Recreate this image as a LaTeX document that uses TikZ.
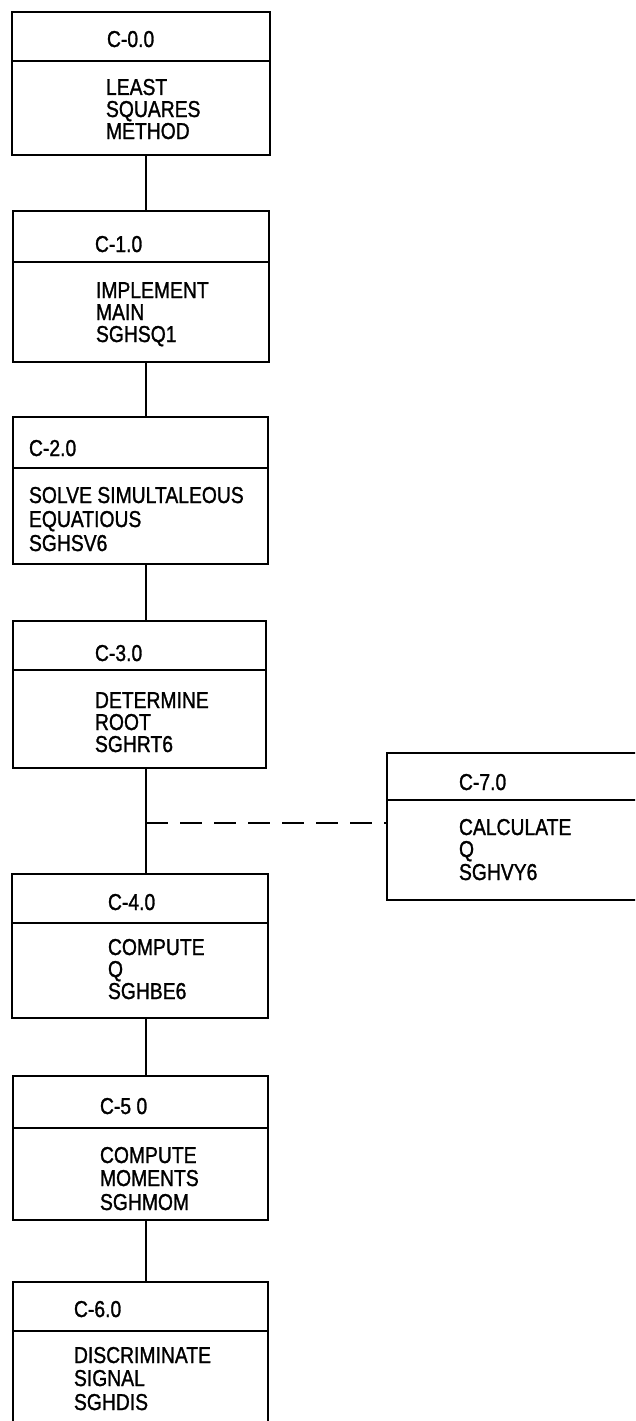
\documentclass[tikz,border=0pt]{standalone}
\usepackage{fontspec}
\setmainfont{Liberation Sans}[FakeStretch=0.84,FakeBold=1.2]
\begin{document}
\begin{tikzpicture}[x=1pt,y=-1pt,
  box/.style={draw, line width=2.5pt, rectangle, inner sep=0pt, outer sep=0pt, anchor=north west},
  txt/.style={inner sep=0pt, outer sep=0pt, anchor=base west, text height=17pt, text depth=2pt, font=\fontsize{23}{23}\selectfont},
  conn/.style={line width=2.5pt},
  dashconn/.style={line width=2.5pt, dash pattern=on 22pt off 12pt}]
\useasboundingbox (0,0) rectangle (635,1421);
\clip (0,0) rectangle (635,1421);
\coordinate (spine) at (146,0);
% boxes
\node[box, minimum width=258pt, minimum height=143pt] (b0) at (12,12) {};
\node[box, minimum width=256pt, minimum height=151pt] (b1) at (13,211) {};
\node[box, minimum width=255pt, minimum height=147pt] (b2) at (13,417) {};
\node[box, minimum width=253pt, minimum height=147pt] (b3) at (13,621) {};
\node[box, minimum width=256pt, minimum height=144pt] (b4) at (12,874) {};
\node[box, minimum width=255pt, minimum height=144pt] (b5) at (13,1076) {};
\node[box, minimum width=255pt, minimum height=200pt] (b6) at (13,1282) {};
\node[box, minimum width=300pt, minimum height=147pt] (b7) at (387,753) {};
% dividers
\draw[conn] (b0.west |- 0,61) -- (b0.east |- 0,61);
\draw[conn] (b1.west |- 0,262) -- (b1.east |- 0,262);
\draw[conn] (b2.west |- 0,468) -- (b2.east |- 0,468);
\draw[conn] (b3.west |- 0,670) -- (b3.east |- 0,670);
\draw[conn] (b4.west |- 0,923) -- (b4.east |- 0,923);
\draw[conn] (b5.west |- 0,1128) -- (b5.east |- 0,1128);
\draw[conn] (b6.west |- 0,1331) -- (b6.east |- 0,1331);
\draw[conn] (b7.west |- 0,800) -- (b7.east |- 0,800);
% texts
\node[txt] (t0a) at (107,47) {C-0.0};
\node[txt] (t0b) at (106,95) {LEAST};
\node[txt] (t0c) at (106,117) {SQUARES};
\node[txt] (t0d) at (106,139) {METHOD};
\node[txt] (t1a) at (95,252) {C-1.0};
\node[txt] (t1b) at (96,298) {IMPLEMENT};
\node[txt] (t1c) at (96,320) {MAIN};
\node[txt] (t1d) at (96,342) {SGHSQ1};
\node[txt] (t2a) at (29,456) {C-2.0};
\node[txt] (t2b) at (29,503) {SOLVE SIMULTALEOUS};
\node[txt] (t2c) at (29,527) {EQUATIOUS};
\node[txt] (t2d) at (29,551) {SGHSV6};
\node[txt] (t3a) at (95,661) {C-3.0};
\node[txt] (t3b) at (95,708) {DETERMINE};
\node[txt] (t3c) at (95,730) {ROOT};
\node[txt] (t3d) at (95,752) {SGHRT6};
\node[txt] (t4a) at (108,910) {C-4.0};
\node[txt] (t4b) at (108,955) {COMPUTE};
\node[txt] (t4c) at (108,977) {Q};
\node[txt] (t4d) at (108,999) {SGHBE6};
\node[txt] (t5a) at (100,1114) {C-5 0};
\node[txt] (t5b) at (100,1163) {COMPUTE};
\node[txt] (t5c) at (100,1186) {MOMENTS};
\node[txt] (t5d) at (100,1210) {SGHMOM};
\node[txt] (t6a) at (74,1317) {C-6.0};
\node[txt] (t6b) at (74,1363) {DISCRIMINATE};
\node[txt] (t6c) at (74,1386) {SIGNAL};
\node[txt] (t6d) at (74,1410) {SGHDIS};
\node[txt] (t7a) at (459,790) {C-7.0};
\node[txt] (t7b) at (459,835) {CALCULATE};
\node[txt] (t7c) at (459,857) {Q};
\node[txt] (t7d) at (459,880) {SGHVY6};
% connectors
\draw[conn] (b0.south -| spine) -- (b1.north -| spine);
\draw[conn] (b1.south -| spine) -- (b2.north -| spine);
\draw[conn] (b2.south -| spine) -- (b3.north -| spine);
\draw[conn] (b3.south -| spine) -- (b4.north -| spine);
\draw[conn] (b4.south -| spine) -- (b5.north -| spine);
\draw[conn] (b5.south -| spine) -- (b6.north -| spine);
\coordinate (j) at (146,823);
\draw[dashconn] (j) -- (j -| b7.west);
\end{tikzpicture}
\end{document}
